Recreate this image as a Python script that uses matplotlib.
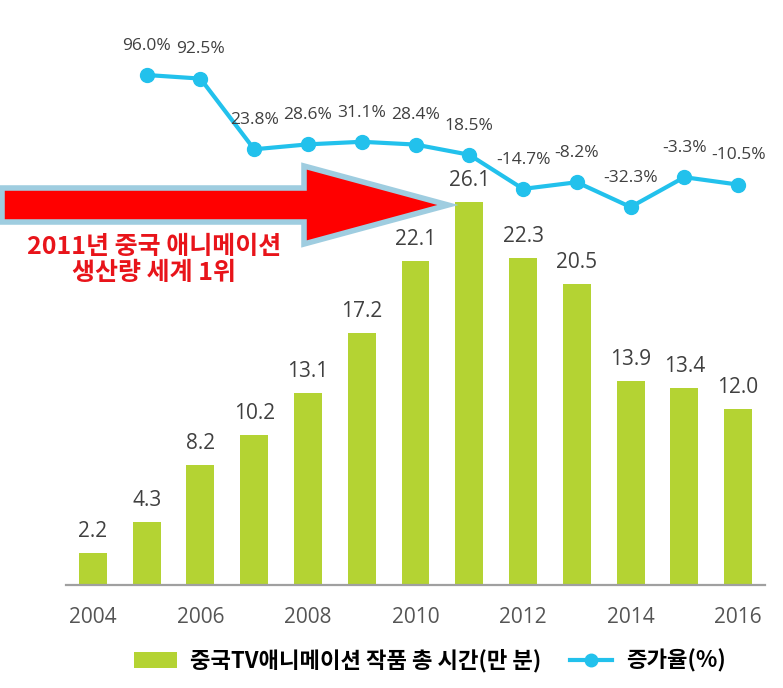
import matplotlib
matplotlib.use("Agg")
import matplotlib.pyplot as plt
from matplotlib.patches import Patch, FancyArrow
from matplotlib.lines import Line2D

years = [2004, 2005, 2006, 2007, 2008, 2009, 2010, 2011, 2012, 2013, 2014, 2015, 2016]
minutes = [2.2, 4.3, 8.2, 10.2, 13.1, 17.2, 22.1, 26.1, 22.3, 20.5, 13.9, 13.4, 12.0]
growth_years = [2005, 2006, 2007, 2008, 2009, 2010, 2011, 2012, 2013, 2014, 2015, 2016]
growth = [96.0, 92.5, 23.8, 28.6, 31.1, 28.4, 18.5, -14.7, -8.2, -32.3, -3.3, -10.5]
xticks = [2004, 2006, 2008, 2010, 2012, 2014, 2016]

bar_color = '#b4d333'
line_color = '#22c1ec'
W, H = 783, 688

plt.rcParams['font.family'] = ['Open Sans', 'Noto Sans CJK KR', 'DejaVu Sans']
kr = ['Noto Sans CJK KR', 'DejaVu Sans']

fig = plt.figure(figsize=(W / 100, H / 100), dpi=100)
ax = fig.add_axes([66 / W, (H - 585) / H, 699 / W, 565 / H])

ax.bar(years, minutes, width=0.52, color=bar_color, zorder=2)
for x, v in zip(years, minutes):
    ax.annotate('%.1f' % v, (x, v), xytext=(0, 8), textcoords='offset points',
                ha='center', va='bottom', fontsize=15, color='#404040')

ax.set_xlim(2003.5, 2016.5)
ax.set_ylim(0, 565 / 14.67)
ax.set_xticks(xticks)
ax.set_xticklabels([str(t) for t in xticks], fontsize=15, color='#555555')
ax.tick_params(axis='x', length=0, pad=16)
ax.set_yticks([])
for s in ['top', 'right', 'left']:
    ax.spines[s].set_visible(False)
ax.spines['bottom'].set_color('#a0a0a0')
ax.spines['bottom'].set_linewidth(1.6)

ax2 = ax.twinx()
ax2.plot(growth_years, growth, color=line_color, lw=3, marker='o', ms=10, zorder=3)
for x, v in zip(growth_years, growth):
    ax2.annotate('%.1f%%' % v, (x, v), xytext=(0, 21), textcoords='offset points',
                 ha='center', va='center', fontsize=12.5, color='#404040')
ax2.set_ylim(96 - 510 / 1.029, 96 + 55 / 1.029)
ax2.set_yticks([])
for s in ['top', 'right', 'left', 'bottom']:
    ax2.spines[s].set_visible(False)

# big red arrow pointing at the 2011 peak
fig.patches.append(FancyArrow(2 / W, 1 - 205 / H, 446 / W, 0,
                              width=34 / H, head_width=78 / H, head_length=144 / W,
                              length_includes_head=True, facecolor='#ff0000',
                              edgecolor='#9fcde0', linewidth=4,
                              transform=fig.transFigure, zorder=5))

fig.text(154 / W, 1 - 247 / H, '2011년 중국 애니메이션', ha='center', va='center',
         fontsize=18, fontweight='bold', color='#e8141a', family=kr)
fig.text(154 / W, 1 - 273 / H, '생산량 세계 1위', ha='center', va='center',
         fontsize=18, fontweight='bold', color='#e8141a', family=kr)

handles = [Patch(facecolor=bar_color, edgecolor='none'),
           Line2D([], [], color=line_color, lw=3, marker='o', ms=9)]
labels = ['중국TV애니메이션 작품 총 시간(만 분)', '증가율(%)']
fig.legend(handles, labels, loc='center', bbox_to_anchor=(430 / W, 1 - 661 / H),
           ncol=2, frameon=False, handlelength=1.9, handletextpad=0.6, columnspacing=1.3,
           prop={'family': kr, 'weight': 'bold', 'size': 16})

fig.savefig('out.png', dpi=100)
